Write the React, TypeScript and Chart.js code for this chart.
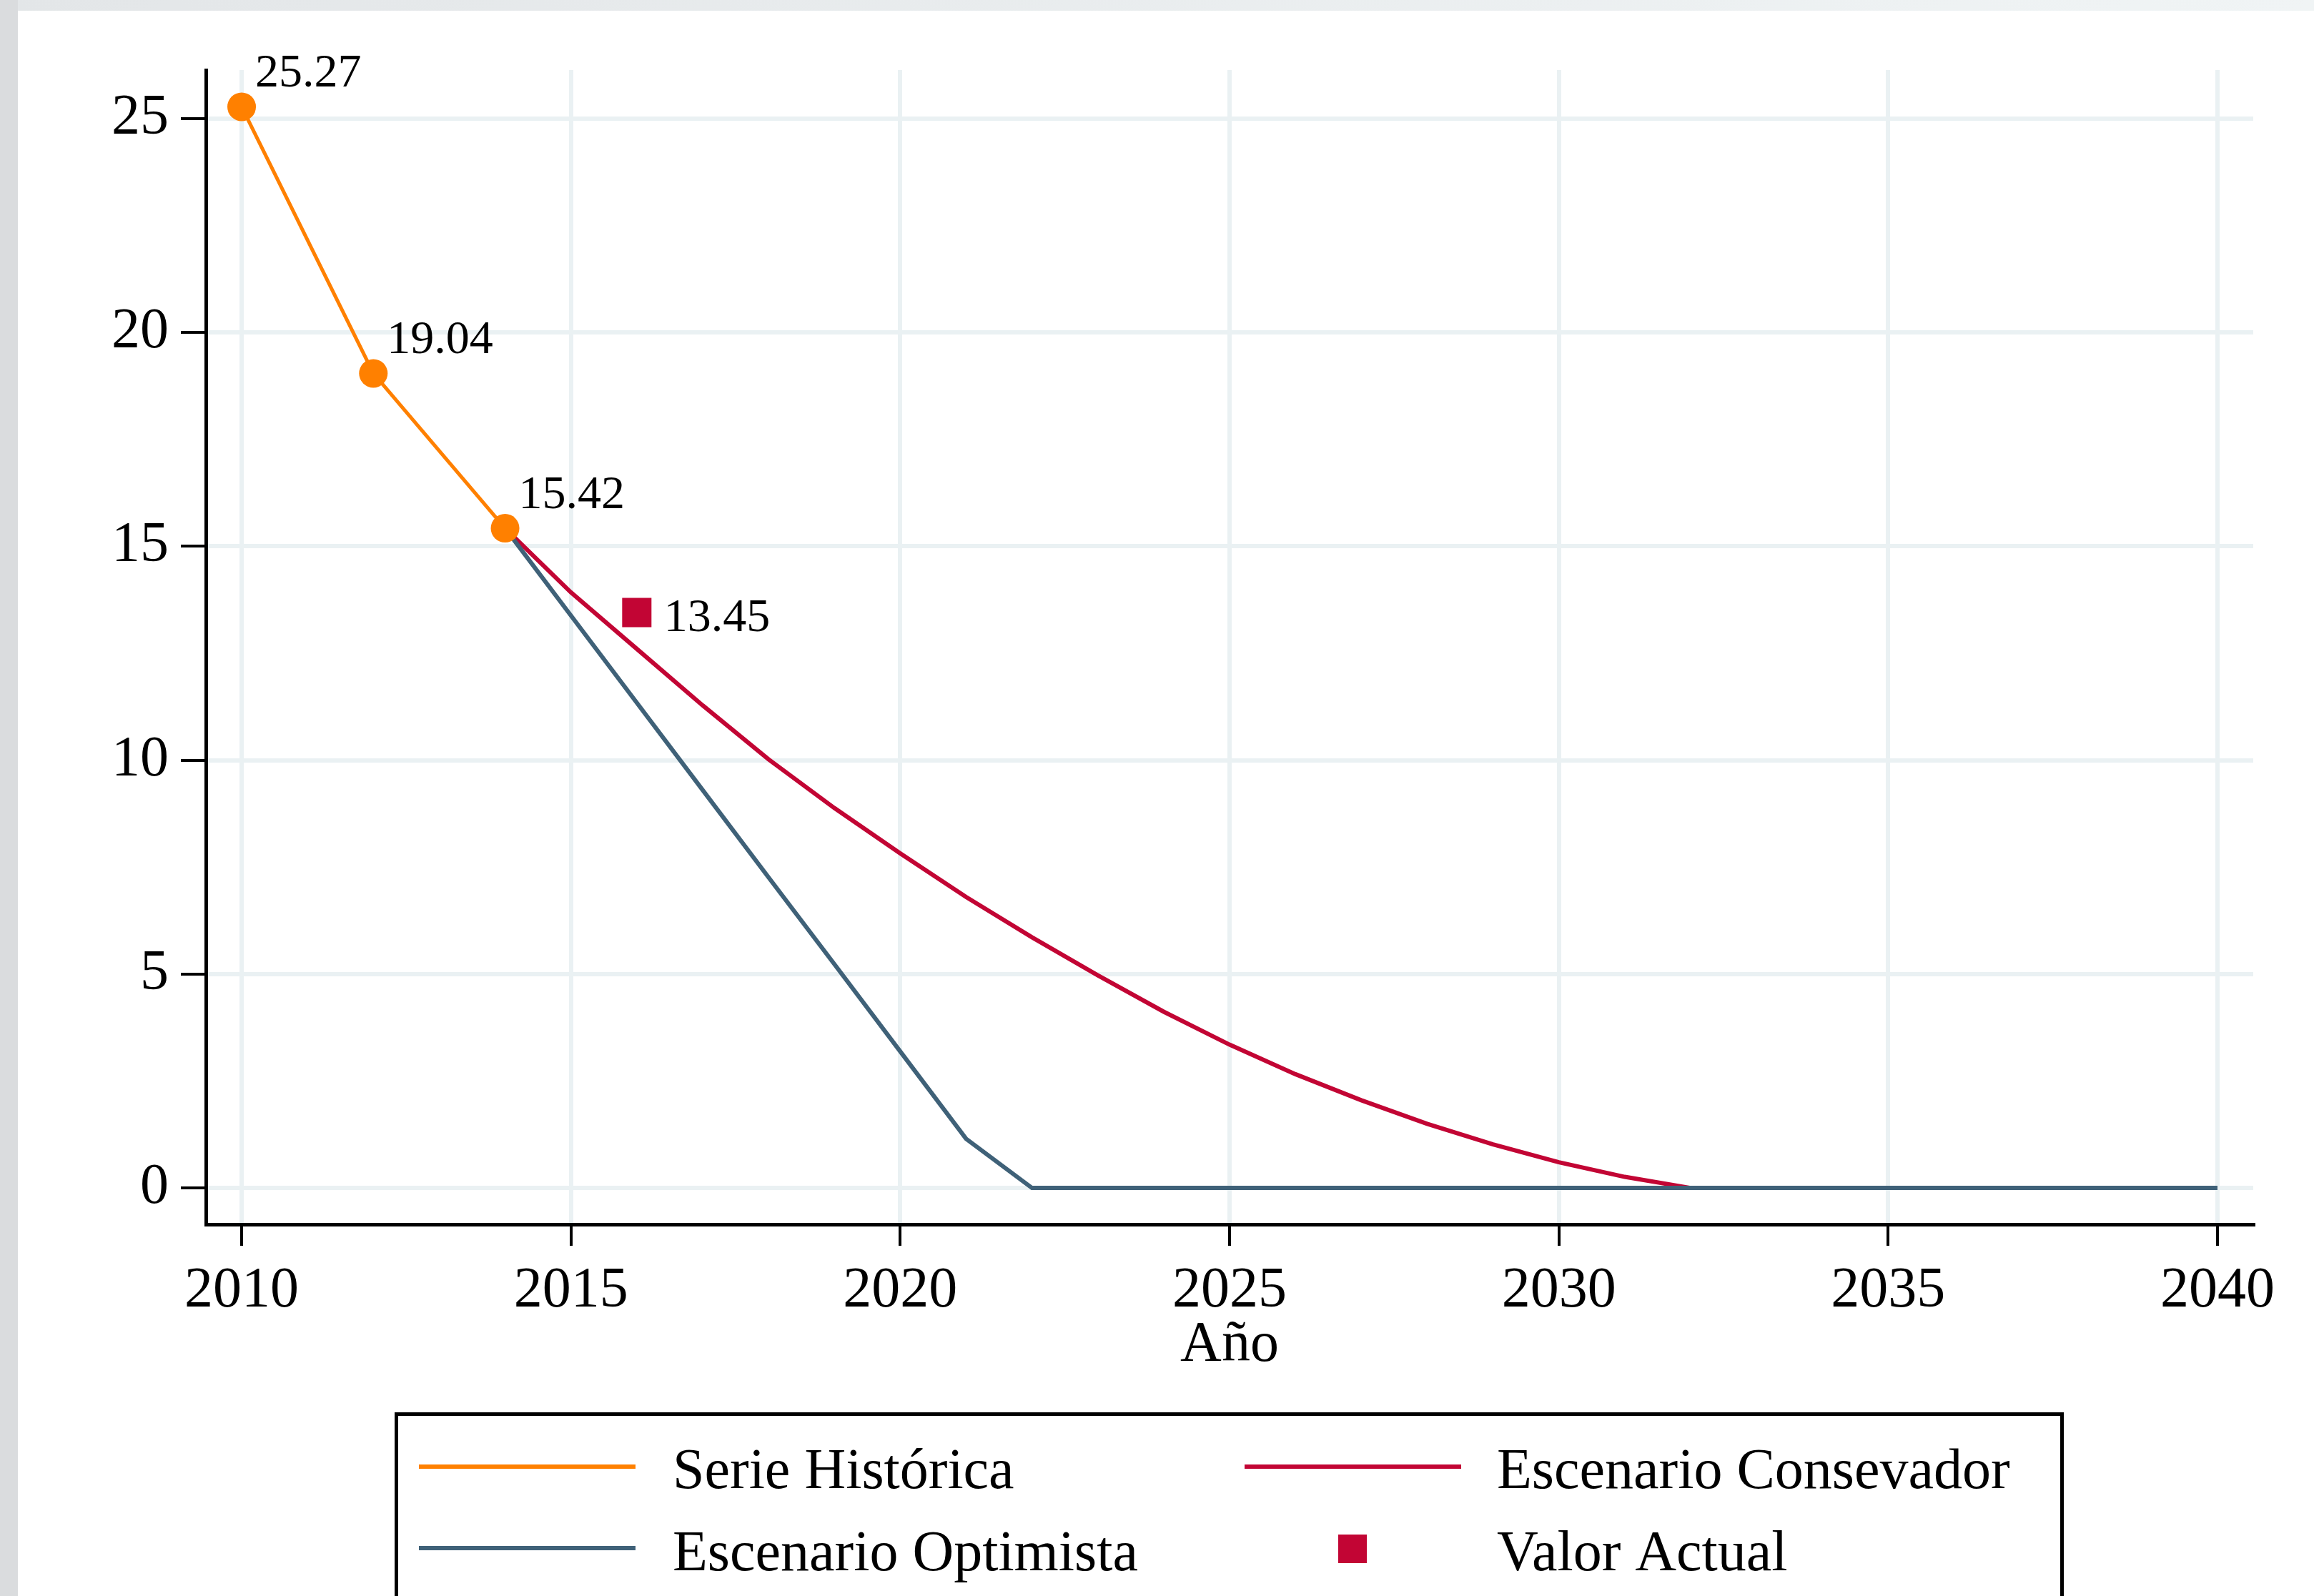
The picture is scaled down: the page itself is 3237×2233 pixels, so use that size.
import React, { useEffect, useRef } from 'react';
import { Chart, registerables } from 'chart.js';

Chart.register(...registerables);

// ---- Data ----
const histYears = [2010, 2012, 2014];
const histValues = [25.27, 19.04, 15.42];

const conservadorYears = [2014, 2015, 2016, 2017, 2018, 2019, 2020, 2021, 2022, 2023, 2024, 2025, 2026, 2027, 2028, 2029, 2030, 2031, 2032];
const conservadorValues = [15.42, 13.92, 12.6, 11.28, 10.02, 8.88, 7.82, 6.8, 5.86, 4.97, 4.12, 3.35, 2.66, 2.05, 1.5, 1.02, 0.6, 0.26, 0];

const optimistaYears = [2014, 2015, 2016, 2017, 2018, 2019, 2020, 2021, 2022, 2023, 2024, 2025, 2026, 2027, 2028, 2029, 2030, 2031, 2032, 2033, 2034, 2035, 2036, 2037, 2038, 2039, 2040];
const optimistaValues = [15.42, 13.38, 11.34, 9.3, 7.26, 5.23, 3.19, 1.15, 0, 0, 0, 0, 0, 0, 0, 0, 0, 0, 0, 0, 0, 0, 0, 0, 0, 0, 0];

const actualYears = [2016];
const actualValues = [13.45];

const xTicks = [2010, 2015, 2020, 2025, 2030, 2035, 2040];
const yTicks = [0, 5, 10, 15, 20, 25];

const seriesLabels = ['Serie Histórica', 'Escenario Consevador', 'Escenario Optimista', 'Valor Actual'];
const xTitle = 'Año';

// ---- Styles ----
const ORANGE = '#ff8000';
const CRIMSON = '#c20534';
const SLATE = '#3f6178';
const GRID = '#eaf1f3';
const FONT = '"Liberation Serif", "Times New Roman", serif';

const toPts = (xs: number[], ys: number[]) => xs.map((x, i) => ({ x, y: ys[i] }));

const backgroundPlugin = {
  id: 'bgPanel',
  beforeDraw(chart: any) {
    const { ctx, width, height } = chart;
    ctx.save();
    ctx.fillStyle = '#ffffff';
    ctx.fillRect(0, 0, width, height);
    const g = ctx.createLinearGradient(0, 0, width, 0);
    g.addColorStop(0, '#e3e6e8');
    g.addColorStop(1, '#f0f4f5');
    ctx.fillStyle = g;
    ctx.fillRect(0, 0, width, 15);
    ctx.fillStyle = '#dadcde';
    ctx.fillRect(0, 0, 25, height);
    ctx.restore();
  },
};

const labelsPlugin = {
  id: 'pointLabels',
  afterDatasetsDraw(chart: any) {
    const { ctx } = chart;
    ctx.save();
    ctx.fillStyle = '#000';
    ctx.font = `66px ${FONT}`;
    ctx.textAlign = 'left';
    ctx.textBaseline = 'alphabetic';
    const histMeta = chart.getDatasetMeta(0);
    histMeta.data.forEach((pt: any, i: number) => {
      ctx.fillText(histValues[i].toFixed(2), pt.x + 19, pt.y - 28);
    });
    const actMeta = chart.getDatasetMeta(1);
    actMeta.data.forEach((pt: any, i: number) => {
      ctx.fillText(actualValues[i].toFixed(2), pt.x + 38, pt.y + 26);
    });
    ctx.restore();
  },
};

const legendPlugin = {
  id: 'boxLegend',
  afterDraw(chart: any) {
    const { ctx } = chart;
    ctx.save();
    ctx.strokeStyle = '#000';
    ctx.lineWidth = 5;
    ctx.strokeRect(554.5, 1978.5, 2330, 400);
    const drawLine = (x1: number, x2: number, y: number, c: string) => {
      ctx.beginPath();
      ctx.strokeStyle = c;
      ctx.lineWidth = 6;
      ctx.moveTo(x1, y);
      ctx.lineTo(x2, y);
      ctx.stroke();
    };
    drawLine(586, 889, 2052, ORANGE);
    drawLine(1741, 2044, 2052, CRIMSON);
    drawLine(586, 889, 2166, SLATE);
    ctx.fillStyle = CRIMSON;
    ctx.fillRect(1872, 2147, 40, 40);
    ctx.fillStyle = '#000';
    ctx.font = `80px ${FONT}`;
    ctx.textAlign = 'left';
    ctx.textBaseline = 'alphabetic';
    ctx.fillText(seriesLabels[0], 941, 2082);
    ctx.fillText(seriesLabels[1], 2094, 2082);
    ctx.fillText(seriesLabels[2], 941, 2197);
    ctx.fillText(seriesLabels[3], 2094, 2197);
    ctx.restore();
  },
};

export default function App() {
  const ref = useRef<HTMLCanvasElement | null>(null);

  useEffect(() => {
    document.body.style.margin = '0';
    const canvas = ref.current;
    if (!canvas) return;
    const chart = new Chart(canvas, {
      type: 'line',
      data: {
        datasets: [
          {
            label: seriesLabels[0],
            data: toPts(histYears, histValues),
            borderColor: ORANGE,
            backgroundColor: ORANGE,
            borderWidth: 5,
            pointRadius: 20,
            pointBorderWidth: 0,
            pointBackgroundColor: ORANGE,
            pointStyle: 'circle',
            tension: 0,
            order: 0,
          },
          {
            label: seriesLabels[3],
            data: toPts(actualYears, actualValues),
            showLine: false,
            borderColor: CRIMSON,
            backgroundColor: CRIMSON,
            pointStyle: 'rect',
            pointRadius: 29,
            pointBorderWidth: 0,
            pointBackgroundColor: CRIMSON,
            order: 1,
          },
          {
            label: seriesLabels[2],
            data: toPts(optimistaYears, optimistaValues),
            borderColor: SLATE,
            backgroundColor: SLATE,
            borderWidth: 6,
            pointRadius: 0,
            tension: 0,
            order: 2,
          },
          {
            label: seriesLabels[1],
            data: toPts(conservadorYears, conservadorValues),
            borderColor: CRIMSON,
            backgroundColor: CRIMSON,
            borderWidth: 6,
            pointRadius: 0,
            tension: 0,
            order: 3,
          },
        ],
      },
      options: {
        animation: false,
        responsive: false,
        devicePixelRatio: 1,
        layout: { padding: { left: 0, top: 98, right: 85, bottom: 0 } },
        plugins: {
          legend: { display: false },
          tooltip: { enabled: false },
        },
        scales: {
          x: {
            type: 'linear',
            min: 2009.457,
            max: 2040.543,
            afterBuildTicks: (scale: any) => {
              scale.ticks = xTicks.map((v) => ({ value: v }));
            },
            afterFit: (scale: any) => {
              scale.height = 520;
            },
            grid: {
              color: GRID,
              lineWidth: 6,
              tickColor: '#000',
              tickWidth: 4,
              tickLength: 30,
              drawTicks: true,
            },
            border: { display: true, color: '#000', width: 5 },
            ticks: {
              color: '#000',
              font: { family: FONT, size: 80 },
              padding: 16,
              maxRotation: 0,
              autoSkip: false,
              callback: (v: any) => String(v),
            },
            title: {
              display: true,
              text: xTitle,
              color: '#000',
              font: { family: FONT, size: 80 },
              padding: { top: 0, bottom: 302 },
            },
          },
          y: {
            type: 'linear',
            min: -0.85,
            max: 26.13,
            afterBuildTicks: (scale: any) => {
              scale.ticks = yTicks.map((v) => ({ value: v }));
            },
            afterFit: (scale: any) => {
              scale.width = 288;
            },
            grid: {
              color: GRID,
              lineWidth: 6,
              tickColor: '#000',
              tickWidth: 4,
              tickLength: 35,
              drawTicks: true,
            },
            border: { display: true, color: '#000', width: 5 },
            ticks: {
              color: '#000',
              font: { family: FONT, size: 80 },
              padding: 17,
              autoSkip: false,
              callback: (v: any) => String(v),
            },
          },
        },
      },
      plugins: [backgroundPlugin, labelsPlugin, legendPlugin],
    } as any);
    return () => {
      chart.destroy();
    };
  }, []);

  return (
    <canvas
      ref={ref}
      width={3237}
      height={2233}
      style={{ display: 'block', width: '3237px', height: '2233px' }}
    />
  );
}
